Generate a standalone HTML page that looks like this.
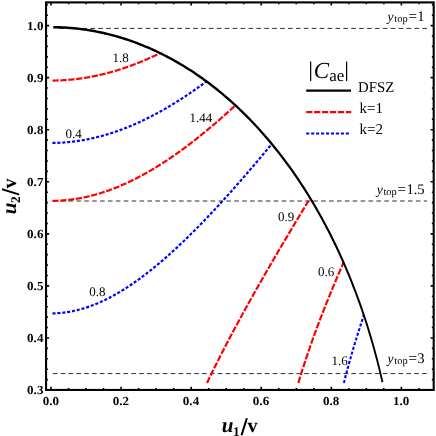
<!DOCTYPE html>
<html><head><meta charset="utf-8"><style>
html,body{margin:0;padding:0;background:#fff;}
svg{display:block;font-family:"Liberation Serif",serif;text-rendering:geometricPrecision;will-change:transform;}
</style></head><body>
<svg width="436" height="436" viewBox="0 0 436 436">
<rect width="436" height="436" fill="#fff"/>
<g stroke="#2e2e2e" stroke-width="1" fill="none">
<path d="M58.77,28.41 L427,28.41" stroke-dasharray="4.6,3.305"/>
<path d="M52.70,201.01 L427,201.01" stroke-dasharray="4.6,3.295"/>
<path d="M52.80,373.60 L427,373.60" stroke-dasharray="4.6,3.257"/>
</g>
<g transform="scale(1,1.0000)" fill="none">
<g stroke="#ff0000" stroke-width="2.2">
<path d="M52.50,80.56 L52.86,80.55 L53.22,80.55 L53.58,80.55 L53.94,80.54 L54.29,80.54 L54.65,80.53 L55.01,80.52 L55.37,80.52 L55.73,80.51 L56.09,80.50 L56.45,80.49 L56.81,80.48 L57.17,80.47 L57.52,80.46 L57.88,80.45 L58.24,80.44 L58.60,80.42 L58.96,80.41 L59.32,80.40 L59.68,80.38 L60.04,80.37 L60.40,80.35 L60.75,80.34 L61.11,80.32 L61.47,80.30 L61.83,80.28 L62.19,80.26 L62.55,80.25 L62.91,80.23 L63.27,80.20 L63.63,80.18 L63.98,80.16 L64.34,80.14 L64.70,80.12 L65.06,80.09 L65.42,80.07 L65.78,80.04 L66.14,80.02 L66.50,79.99 L66.86,79.97 L67.21,79.94 L67.57,79.91 L67.93,79.88 L68.29,79.85 L68.65,79.82 L69.01,79.79 L69.37,79.76 L69.73,79.73 L70.09,79.70 L70.44,79.67 L70.80,79.63 L71.16,79.60 L71.52,79.56 L71.88,79.53 L72.24,79.49 L72.60,79.46 L72.96,79.42 L73.32,79.38 L73.67,79.34 L74.03,79.31 L74.39,79.27 L74.75,79.23 L75.11,79.19 L75.47,79.14 L75.83,79.10 L76.19,79.06 L76.55,79.02 L76.90,78.97 L77.26,78.93 L77.62,78.88 L77.98,78.84 L78.34,78.79 L78.70,78.75 L79.06,78.70 L79.42,78.65 L79.78,78.60 L80.13,78.55 L80.49,78.50 L80.85,78.45 L81.21,78.40 L81.57,78.35 L81.93,78.30 L82.29,78.25 L82.65,78.19 L83.01,78.14 L83.36,78.08 L83.72,78.03 L84.08,77.97 L84.44,77.92 L84.80,77.86 L85.16,77.80 L85.52,77.75 L85.88,77.69 L86.24,77.63 L86.59,77.57 L86.95,77.51 L87.31,77.45 L87.67,77.38 L88.03,77.32 L88.39,77.26 L88.75,77.20 L89.11,77.13 L89.47,77.07 L89.82,77.00 L90.18,76.94 L90.54,76.87 L90.90,76.80 L91.26,76.73 L91.62,76.67 L91.98,76.60 L92.34,76.53 L92.70,76.46 L93.05,76.39 L93.41,76.32 L93.77,76.24 L94.13,76.17 L94.49,76.10 L94.85,76.03 L95.21,75.95 L95.57,75.88 L95.93,75.80 L96.28,75.73 L96.64,75.65 L97.00,75.57 L97.36,75.49 L97.72,75.42 L98.08,75.34 L98.44,75.26 L98.80,75.18 L99.16,75.10 L99.51,75.02 L99.87,74.93 L100.23,74.85 L100.59,74.77 L100.95,74.68 L101.31,74.60 L101.67,74.52 L102.03,74.43 L102.39,74.34 L102.74,74.26 L103.10,74.17 L103.46,74.08 L103.82,73.99 L104.18,73.91 L104.54,73.82 L104.90,73.73 L105.26,73.64 L105.62,73.54 L105.97,73.45 L106.33,73.36 L106.69,73.27 L107.05,73.17 L107.41,73.08 L107.77,72.98 L108.13,72.89 L108.49,72.79 L108.85,72.70 L109.20,72.60 L109.56,72.50 L109.92,72.40 L110.28,72.30 L110.64,72.21 L111.00,72.11 L111.36,72.00 L111.72,71.90 L112.08,71.80 L112.43,71.70 L112.79,71.60 L113.15,71.49 L113.51,71.39 L113.87,71.28 L114.23,71.18 L114.59,71.07 L114.95,70.97 L115.31,70.86 L115.66,70.75 L116.02,70.65 L116.38,70.54 L116.74,70.43 L117.10,70.32 L117.46,70.21 L117.82,70.10 L118.18,69.98 L118.54,69.87 L118.89,69.76 L119.25,69.65 L119.61,69.53 L119.97,69.42 L120.33,69.30 L120.69,69.19 L121.05,69.07 L121.41,68.96 L121.77,68.84 L122.12,68.72 L122.48,68.60 L122.84,68.48 L123.20,68.36 L123.56,68.24 L123.92,68.12 L124.28,68.00 L124.64,67.88 L125.00,67.76 L125.35,67.64 L125.71,67.51 L126.07,67.39 L126.43,67.26 L126.79,67.14 L127.15,67.01 L127.51,66.89 L127.87,66.76 L128.23,66.63 L128.58,66.51 L128.94,66.38 L129.30,66.25 L129.66,66.12 L130.02,65.99 L130.38,65.86 L130.74,65.73 L131.10,65.60 L131.46,65.46 L131.81,65.33 L132.17,65.20 L132.53,65.06 L132.89,64.93 L133.25,64.79 L133.61,64.66 L133.97,64.52 L134.33,64.38 L134.69,64.25 L135.04,64.11 L135.40,63.97 L135.76,63.83 L136.12,63.69 L136.48,63.55 L136.84,63.41 L137.20,63.27 L137.56,63.13 L137.92,62.99 L138.27,62.84 L138.63,62.70 L138.99,62.56 L139.35,62.41 L139.71,62.27 L140.07,62.12 L140.43,61.98 L140.79,61.83 L141.15,61.68 L141.51,61.53 L141.86,61.39 L142.22,61.24 L142.58,61.09 L142.94,60.94 L143.30,60.79 L143.66,60.64 L144.02,60.49 L144.38,60.33 L144.74,60.18 L145.09,60.03 L145.45,59.87 L145.81,59.72 L146.17,59.57 L146.53,59.41 L146.89,59.25 L147.25,59.10 L147.61,58.94 L147.97,58.78 L148.32,58.63 L148.68,58.47 L149.04,58.31 L149.40,58.15 L149.76,57.99 L150.12,57.83 L150.48,57.67 L150.84,57.51 L151.20,57.34 L151.55,57.18 L151.91,57.02 L152.27,56.86 L152.63,56.69 L152.99,56.53 L153.35,56.36 L153.71,56.20 L154.07,56.03 L154.43,55.86 L154.78,55.69 L155.14,55.53 L155.50,55.36 L155.86,55.19 L156.22,55.02 L156.58,54.85 L156.94,54.68 L157.30,54.51 L157.66,54.34 L158.01,54.16 L158.37,53.99 L158.73,53.82 L159.09,53.65 L159.45,53.47 L159.81,53.30 L160.13,53.14" stroke-dasharray="6.202,1.699"/>
<path d="M52.50,200.87 L53.11,200.86 L53.72,200.85 L54.33,200.84 L54.94,200.82 L55.55,200.81 L56.16,200.79 L56.77,200.77 L57.38,200.74 L57.99,200.72 L58.60,200.69 L59.21,200.66 L59.82,200.62 L60.43,200.59 L61.04,200.55 L61.65,200.51 L62.26,200.47 L62.87,200.42 L63.48,200.38 L64.09,200.33 L64.70,200.27 L65.31,200.22 L65.92,200.16 L66.53,200.10 L67.14,200.04 L67.75,199.98 L68.36,199.91 L68.97,199.84 L69.58,199.77 L70.19,199.70 L70.80,199.62 L71.41,199.54 L72.02,199.46 L72.63,199.38 L73.24,199.30 L73.85,199.21 L74.46,199.12 L75.07,199.03 L75.68,198.93 L76.29,198.84 L76.90,198.74 L77.51,198.63 L78.12,198.53 L78.73,198.42 L79.34,198.32 L79.95,198.21 L80.56,198.09 L81.17,197.98 L81.78,197.86 L82.39,197.74 L83.00,197.62 L83.61,197.49 L84.22,197.36 L84.83,197.24 L85.44,197.10 L86.05,196.97 L86.66,196.83 L87.27,196.69 L87.88,196.55 L88.49,196.41 L89.10,196.27 L89.71,196.12 L90.32,195.97 L90.93,195.82 L91.54,195.66 L92.15,195.50 L92.76,195.34 L93.37,195.18 L93.98,195.02 L94.59,194.85 L95.20,194.69 L95.81,194.52 L96.42,194.34 L97.02,194.17 L97.63,193.99 L98.24,193.81 L98.85,193.63 L99.46,193.45 L100.07,193.26 L100.68,193.07 L101.29,192.88 L101.90,192.69 L102.51,192.49 L103.12,192.30 L103.73,192.10 L104.34,191.89 L104.95,191.69 L105.56,191.49 L106.17,191.28 L106.78,191.07 L107.39,190.85 L108.00,190.64 L108.61,190.42 L109.22,190.20 L109.83,189.98 L110.44,189.76 L111.05,189.53 L111.66,189.31 L112.27,189.08 L112.88,188.84 L113.49,188.61 L114.10,188.37 L114.71,188.13 L115.32,187.89 L115.93,187.65 L116.54,187.41 L117.15,187.16 L117.76,186.91 L118.37,186.66 L118.98,186.40 L119.59,186.15 L120.20,185.89 L120.81,185.63 L121.42,185.37 L122.03,185.11 L122.64,184.84 L123.25,184.57 L123.86,184.30 L124.47,184.03 L125.08,183.76 L125.69,183.48 L126.30,183.20 L126.91,182.92 L127.52,182.64 L128.13,182.36 L128.74,182.07 L129.35,181.78 L129.96,181.49 L130.57,181.20 L131.18,180.90 L131.79,180.61 L132.40,180.31 L133.01,180.01 L133.62,179.70 L134.23,179.40 L134.84,179.09 L135.45,178.79 L136.06,178.47 L136.67,178.16 L137.28,177.85 L137.89,177.53 L138.50,177.21 L139.11,176.89 L139.72,176.57 L140.33,176.25 L140.94,175.92 L141.55,175.59 L142.16,175.26 L142.77,174.93 L143.38,174.60 L143.99,174.26 L144.60,173.92 L145.21,173.58 L145.82,173.24 L146.43,172.90 L147.04,172.55 L147.65,172.21 L148.26,171.86 L148.87,171.51 L149.48,171.16 L150.09,170.80 L150.70,170.44 L151.31,170.09 L151.92,169.73 L152.53,169.36 L153.14,169.00 L153.75,168.64 L154.36,168.27 L154.97,167.90 L155.58,167.53 L156.19,167.16 L156.80,166.78 L157.41,166.40 L158.02,166.03 L158.63,165.65 L159.24,165.27 L159.85,164.88 L160.46,164.50 L161.07,164.11 L161.68,163.72 L162.29,163.33 L162.90,162.94 L163.51,162.54 L164.12,162.15 L164.73,161.75 L165.34,161.35 L165.95,160.95 L166.56,160.55 L167.17,160.14 L167.78,159.74 L168.39,159.33 L169.00,158.92 L169.61,158.51 L170.22,158.10 L170.83,157.68 L171.44,157.27 L172.05,156.85 L172.66,156.43 L173.27,156.01 L173.88,155.59 L174.49,155.16 L175.10,154.74 L175.71,154.31 L176.32,153.88 L176.93,153.45 L177.54,153.02 L178.15,152.58 L178.76,152.15 L179.37,151.71 L179.98,151.27 L180.59,150.83 L181.20,150.39 L181.81,149.94 L182.42,149.50 L183.03,149.05 L183.64,148.60 L184.25,148.15 L184.86,147.70 L185.46,147.25 L186.07,146.79 L186.68,146.34 L187.29,145.88 L187.90,145.42 L188.51,144.96 L189.12,144.50 L189.73,144.03 L190.34,143.57 L190.95,143.10 L191.56,142.63 L192.17,142.16 L192.78,141.69 L193.39,141.22 L194.00,140.75 L194.61,140.27 L195.22,139.79 L195.83,139.32 L196.44,138.84 L197.05,138.35 L197.66,137.87 L198.27,137.39 L198.88,136.90 L199.49,136.41 L200.10,135.93 L200.71,135.44 L201.32,134.94 L201.93,134.45 L202.54,133.96 L203.15,133.46 L203.76,132.96 L204.37,132.47 L204.98,131.97 L205.59,131.47 L206.20,130.96 L206.81,130.46 L207.42,129.95 L208.03,129.45 L208.64,128.94 L209.25,128.43 L209.86,127.92 L210.47,127.41 L211.08,126.89 L211.69,126.38 L212.30,125.86 L212.91,125.35 L213.52,124.83 L214.13,124.31 L214.74,123.79 L215.35,123.26 L215.96,122.74 L216.57,122.21 L217.18,121.69 L217.79,121.16 L218.40,120.63 L219.01,120.10 L219.62,119.57 L220.23,119.04 L220.84,118.50 L221.45,117.97 L222.06,117.43 L222.67,116.89 L223.28,116.35 L223.89,115.81 L224.50,115.27 L225.11,114.73 L225.72,114.19 L226.33,113.64 L226.94,113.09 L227.55,112.55 L228.16,112.00 L228.77,111.45 L229.38,110.90 L229.99,110.34 L230.60,109.79 L231.21,109.24 L231.82,108.68 L232.43,108.12 L233.04,107.57 L233.65,107.01 L234.26,106.45 L234.87,105.88 L235.42,105.38" stroke-dasharray="6.147,1.683"/>
<path d="M207.07,382.90 L207.42,382.18 L207.76,381.45 L208.10,380.73 L208.45,380.01 L208.79,379.29 L209.14,378.58 L209.48,377.86 L209.82,377.15 L210.17,376.44 L210.51,375.73 L210.85,375.02 L211.20,374.31 L211.54,373.60 L211.88,372.90 L212.23,372.19 L212.57,371.49 L212.92,370.79 L213.26,370.09 L213.60,369.39 L213.95,368.70 L214.29,368.00 L214.63,367.31 L214.98,366.61 L215.32,365.92 L215.67,365.23 L216.01,364.54 L216.35,363.85 L216.70,363.16 L217.04,362.48 L217.38,361.79 L217.73,361.11 L218.07,360.42 L218.42,359.74 L218.76,359.06 L219.10,358.38 L219.45,357.70 L219.79,357.03 L220.13,356.35 L220.48,355.67 L220.82,355.00 L221.17,354.33 L221.51,353.65 L221.85,352.98 L222.20,352.31 L222.54,351.64 L222.88,350.97 L223.23,350.31 L223.57,349.64 L223.91,348.97 L224.26,348.31 L224.60,347.65 L224.95,346.98 L225.29,346.32 L225.63,345.66 L225.98,345.00 L226.32,344.34 L226.66,343.68 L227.01,343.02 L227.35,342.37 L227.70,341.71 L228.04,341.06 L228.38,340.40 L228.73,339.75 L229.07,339.10 L229.41,338.44 L229.76,337.79 L230.10,337.14 L230.45,336.49 L230.79,335.84 L231.13,335.20 L231.48,334.55 L231.82,333.90 L232.16,333.26 L232.51,332.61 L232.85,331.97 L233.20,331.32 L233.54,330.68 L233.88,330.04 L234.23,329.40 L234.57,328.75 L234.91,328.11 L235.26,327.48 L235.60,326.84 L235.95,326.20 L236.29,325.56 L236.63,324.92 L236.98,324.29 L237.32,323.65 L237.66,323.02 L238.01,322.38 L238.35,321.75 L238.69,321.12 L239.04,320.48 L239.38,319.85 L239.73,319.22 L240.07,318.59 L240.41,317.96 L240.76,317.33 L241.10,316.70 L241.44,316.07 L241.79,315.45 L242.13,314.82 L242.48,314.19 L242.82,313.57 L243.16,312.94 L243.51,312.32 L243.85,311.69 L244.19,311.07 L244.54,310.45 L244.88,309.82 L245.23,309.20 L245.57,308.58 L245.91,307.96 L246.26,307.34 L246.60,306.72 L246.94,306.10 L247.29,305.48 L247.63,304.86 L247.98,304.24 L248.32,303.63 L248.66,303.01 L249.01,302.39 L249.35,301.78 L249.69,301.16 L250.04,300.55 L250.38,299.93 L250.73,299.32 L251.07,298.70 L251.41,298.09 L251.76,297.48 L252.10,296.87 L252.44,296.25 L252.79,295.64 L253.13,295.03 L253.47,294.42 L253.82,293.81 L254.16,293.20 L254.51,292.59 L254.85,291.99 L255.19,291.38 L255.54,290.77 L255.88,290.16 L256.22,289.55 L256.57,288.95 L256.91,288.34 L257.26,287.74 L257.60,287.13 L257.94,286.53 L258.29,285.92 L258.63,285.32 L258.97,284.71 L259.32,284.11 L259.66,283.51 L260.01,282.91 L260.35,282.30 L260.69,281.70 L261.04,281.10 L261.38,280.50 L261.72,279.90 L262.07,279.30 L262.41,278.70 L262.76,278.10 L263.10,277.50 L263.44,276.90 L263.79,276.30 L264.13,275.71 L264.47,275.11 L264.82,274.51 L265.16,273.91 L265.50,273.32 L265.85,272.72 L266.19,272.13 L266.54,271.53 L266.88,270.93 L267.22,270.34 L267.57,269.74 L267.91,269.15 L268.25,268.56 L268.60,267.96 L268.94,267.37 L269.29,266.78 L269.63,266.18 L269.97,265.59 L270.32,265.00 L270.66,264.41 L271.00,263.82 L271.35,263.23 L271.69,262.64 L272.04,262.05 L272.38,261.46 L272.72,260.87 L273.07,260.28 L273.41,259.69 L273.75,259.10 L274.10,258.51 L274.44,257.92 L274.79,257.33 L275.13,256.75 L275.47,256.16 L275.82,255.57 L276.16,254.99 L276.50,254.40 L276.85,253.81 L277.19,253.23 L277.54,252.64 L277.88,252.06 L278.22,251.47 L278.57,250.89 L278.91,250.30 L279.25,249.72 L279.60,249.13 L279.94,248.55 L280.28,247.97 L280.63,247.38 L280.97,246.80 L281.32,246.22 L281.66,245.63 L282.00,245.05 L282.35,244.47 L282.69,243.89 L283.03,243.31 L283.38,242.73 L283.72,242.15 L284.07,241.57 L284.41,240.98 L284.75,240.40 L285.10,239.82 L285.44,239.25 L285.78,238.67 L286.13,238.09 L286.47,237.51 L286.82,236.93 L287.16,236.35 L287.50,235.77 L287.85,235.19 L288.19,234.62 L288.53,234.04 L288.88,233.46 L289.22,232.89 L289.57,232.31 L289.91,231.73 L290.25,231.16 L290.60,230.58 L290.94,230.00 L291.28,229.43 L291.63,228.85 L291.97,228.28 L292.31,227.70 L292.66,227.13 L293.00,226.55 L293.35,225.98 L293.69,225.40 L294.03,224.83 L294.38,224.26 L294.72,223.68 L295.06,223.11 L295.41,222.54 L295.75,221.96 L296.10,221.39 L296.44,220.82 L296.78,220.25 L297.13,219.68 L297.47,219.10 L297.81,218.53 L298.16,217.96 L298.50,217.39 L298.85,216.82 L299.19,216.25 L299.53,215.68 L299.88,215.11 L300.22,214.54 L300.56,213.97 L300.91,213.40 L301.25,212.83 L301.60,212.26 L301.94,211.69 L302.28,211.12 L302.63,210.55 L302.97,209.98 L303.31,209.41 L303.66,208.84 L304.00,208.28 L304.35,207.71 L304.69,207.14 L305.03,206.57 L305.38,206.01 L305.72,205.44 L306.06,204.87 L306.41,204.30 L306.75,203.74 L307.09,203.17 L307.44,202.61 L307.78,202.04 L308.13,201.47 L308.47,200.91 L308.81,200.34 L309.16,199.78 L309.50,199.21 L309.84,198.65 L310.15,198.14" stroke-dasharray="6.359,1.741"/>
<path d="M298.37,382.90 L298.52,382.40 L298.67,381.90 L298.82,381.39 L298.97,380.90 L299.12,380.40 L299.28,379.90 L299.43,379.40 L299.58,378.91 L299.73,378.42 L299.88,377.92 L300.03,377.43 L300.18,376.94 L300.33,376.45 L300.48,375.97 L300.63,375.48 L300.78,374.99 L300.93,374.51 L301.08,374.03 L301.23,373.54 L301.38,373.06 L301.53,372.58 L301.68,372.10 L301.84,371.63 L301.99,371.15 L302.14,370.67 L302.29,370.20 L302.44,369.72 L302.59,369.25 L302.74,368.78 L302.89,368.31 L303.04,367.84 L303.19,367.37 L303.34,366.90 L303.49,366.43 L303.64,365.96 L303.79,365.50 L303.94,365.03 L304.09,364.57 L304.25,364.11 L304.40,363.65 L304.55,363.19 L304.70,362.73 L304.85,362.27 L305.00,361.81 L305.15,361.35 L305.30,360.89 L305.45,360.44 L305.60,359.98 L305.75,359.53 L305.90,359.08 L306.05,358.62 L306.20,358.17 L306.35,357.72 L306.50,357.27 L306.65,356.82 L306.81,356.37 L306.96,355.93 L307.11,355.48 L307.26,355.03 L307.41,354.59 L307.56,354.14 L307.71,353.70 L307.86,353.26 L308.01,352.81 L308.16,352.37 L308.31,351.93 L308.46,351.49 L308.61,351.05 L308.76,350.61 L308.91,350.18 L309.06,349.74 L309.21,349.30 L309.37,348.87 L309.52,348.43 L309.67,348.00 L309.82,347.57 L309.97,347.13 L310.12,346.70 L310.27,346.27 L310.42,345.84 L310.57,345.41 L310.72,344.98 L310.87,344.55 L311.02,344.12 L311.17,343.69 L311.32,343.27 L311.47,342.84 L311.62,342.42 L311.78,341.99 L311.93,341.57 L312.08,341.14 L312.23,340.72 L312.38,340.30 L312.53,339.88 L312.68,339.46 L312.83,339.03 L312.98,338.62 L313.13,338.20 L313.28,337.78 L313.43,337.36 L313.58,336.94 L313.73,336.52 L313.88,336.11 L314.03,335.69 L314.18,335.28 L314.34,334.86 L314.49,334.45 L314.64,334.04 L314.79,333.62 L314.94,333.21 L315.09,332.80 L315.24,332.39 L315.39,331.98 L315.54,331.57 L315.69,331.16 L315.84,330.75 L315.99,330.34 L316.14,329.93 L316.29,329.53 L316.44,329.12 L316.59,328.71 L316.74,328.31 L316.90,327.90 L317.05,327.50 L317.20,327.09 L317.35,326.69 L317.50,326.29 L317.65,325.88 L317.80,325.48 L317.95,325.08 L318.10,324.68 L318.25,324.28 L318.40,323.88 L318.55,323.48 L318.70,323.08 L318.85,322.68 L319.00,322.28 L319.15,321.89 L319.31,321.49 L319.46,321.09 L319.61,320.70 L319.76,320.30 L319.91,319.90 L320.06,319.51 L320.21,319.11 L320.36,318.72 L320.51,318.33 L320.66,317.93 L320.81,317.54 L320.96,317.15 L321.11,316.76 L321.26,316.37 L321.41,315.98 L321.56,315.59 L321.71,315.20 L321.87,314.81 L322.02,314.42 L322.17,314.03 L322.32,313.64 L322.47,313.25 L322.62,312.87 L322.77,312.48 L322.92,312.09 L323.07,311.71 L323.22,311.32 L323.37,310.94 L323.52,310.55 L323.67,310.17 L323.82,309.78 L323.97,309.40 L324.12,309.02 L324.27,308.64 L324.43,308.25 L324.58,307.87 L324.73,307.49 L324.88,307.11 L325.03,306.73 L325.18,306.35 L325.33,305.97 L325.48,305.59 L325.63,305.21 L325.78,304.83 L325.93,304.45 L326.08,304.08 L326.23,303.70 L326.38,303.32 L326.53,302.94 L326.68,302.57 L326.84,302.19 L326.99,301.82 L327.14,301.44 L327.29,301.07 L327.44,300.69 L327.59,300.32 L327.74,299.94 L327.89,299.57 L328.04,299.20 L328.19,298.82 L328.34,298.45 L328.49,298.08 L328.64,297.71 L328.79,297.34 L328.94,296.97 L329.09,296.60 L329.24,296.23 L329.40,295.86 L329.55,295.49 L329.70,295.12 L329.85,294.75 L330.00,294.38 L330.15,294.01 L330.30,293.64 L330.45,293.28 L330.60,292.91 L330.75,292.54 L330.90,292.18 L331.05,291.81 L331.20,291.44 L331.35,291.08 L331.50,290.71 L331.65,290.35 L331.81,289.98 L331.96,289.62 L332.11,289.26 L332.26,288.89 L332.41,288.53 L332.56,288.17 L332.71,287.80 L332.86,287.44 L333.01,287.08 L333.16,286.72 L333.31,286.36 L333.46,286.00 L333.61,285.63 L333.76,285.27 L333.91,284.91 L334.06,284.55 L334.21,284.20 L334.37,283.84 L334.52,283.48 L334.67,283.12 L334.82,282.76 L334.97,282.40 L335.12,282.04 L335.27,281.69 L335.42,281.33 L335.57,280.97 L335.72,280.62 L335.87,280.26 L336.02,279.90 L336.17,279.55 L336.32,279.19 L336.47,278.84 L336.62,278.48 L336.77,278.13 L336.93,277.77 L337.08,277.42 L337.23,277.07 L337.38,276.71 L337.53,276.36 L337.68,276.01 L337.83,275.65 L337.98,275.30 L338.13,274.95 L338.28,274.60 L338.43,274.25 L338.58,273.90 L338.73,273.55 L338.88,273.19 L339.03,272.84 L339.18,272.49 L339.34,272.14 L339.49,271.79 L339.64,271.45 L339.79,271.10 L339.94,270.75 L340.09,270.40 L340.24,270.05 L340.39,269.70 L340.54,269.35 L340.69,269.01 L340.84,268.66 L340.99,268.31 L341.14,267.97 L341.29,267.62 L341.44,267.27 L341.59,266.93 L341.74,266.58 L341.90,266.24 L342.05,265.89 L342.20,265.55 L342.35,265.20 L342.50,264.86 L342.65,264.51 L342.80,264.17 L342.95,263.82 L343.10,263.48 L343.25,263.14 L343.40,262.79 L343.54,262.48" stroke-dasharray="6.476,1.774"/>
</g>
<g stroke="#0000ff" stroke-width="2.2">
<path d="M52.50,142.94 L53.01,142.93 L53.53,142.93 L54.04,142.92 L54.55,142.91 L55.07,142.90 L55.58,142.89 L56.10,142.87 L56.61,142.86 L57.12,142.84 L57.64,142.82 L58.15,142.81 L58.66,142.78 L59.18,142.76 L59.69,142.74 L60.20,142.71 L60.72,142.69 L61.23,142.66 L61.74,142.63 L62.26,142.60 L62.77,142.57 L63.29,142.53 L63.80,142.50 L64.31,142.46 L64.83,142.42 L65.34,142.38 L65.85,142.34 L66.37,142.30 L66.88,142.26 L67.39,142.21 L67.91,142.16 L68.42,142.12 L68.93,142.07 L69.45,142.01 L69.96,141.96 L70.48,141.91 L70.99,141.85 L71.50,141.80 L72.02,141.74 L72.53,141.68 L73.04,141.62 L73.56,141.55 L74.07,141.49 L74.58,141.43 L75.10,141.36 L75.61,141.29 L76.12,141.22 L76.64,141.15 L77.15,141.08 L77.67,141.00 L78.18,140.93 L78.69,140.85 L79.21,140.77 L79.72,140.69 L80.23,140.61 L80.75,140.53 L81.26,140.45 L81.77,140.36 L82.29,140.27 L82.80,140.19 L83.32,140.10 L83.83,140.01 L84.34,139.91 L84.86,139.82 L85.37,139.72 L85.88,139.63 L86.40,139.53 L86.91,139.43 L87.42,139.33 L87.94,139.23 L88.45,139.12 L88.96,139.02 L89.48,138.91 L89.99,138.81 L90.51,138.70 L91.02,138.59 L91.53,138.47 L92.05,138.36 L92.56,138.25 L93.07,138.13 L93.59,138.01 L94.10,137.89 L94.61,137.77 L95.13,137.65 L95.64,137.53 L96.15,137.40 L96.67,137.28 L97.18,137.15 L97.70,137.02 L98.21,136.89 L98.72,136.76 L99.24,136.63 L99.75,136.49 L100.26,136.36 L100.78,136.22 L101.29,136.08 L101.80,135.94 L102.32,135.80 L102.83,135.66 L103.34,135.51 L103.86,135.37 L104.37,135.22 L104.89,135.07 L105.40,134.93 L105.91,134.77 L106.43,134.62 L106.94,134.47 L107.45,134.31 L107.97,134.16 L108.48,134.00 L108.99,133.84 L109.51,133.68 L110.02,133.52 L110.54,133.36 L111.05,133.19 L111.56,133.03 L112.08,132.86 L112.59,132.69 L113.10,132.52 L113.62,132.35 L114.13,132.18 L114.64,132.01 L115.16,131.83 L115.67,131.66 L116.18,131.48 L116.70,131.30 L117.21,131.12 L117.73,130.94 L118.24,130.76 L118.75,130.57 L119.27,130.39 L119.78,130.20 L120.29,130.01 L120.81,129.82 L121.32,129.63 L121.83,129.44 L122.35,129.25 L122.86,129.05 L123.37,128.85 L123.89,128.66 L124.40,128.46 L124.92,128.26 L125.43,128.06 L125.94,127.86 L126.46,127.65 L126.97,127.45 L127.48,127.24 L128.00,127.03 L128.51,126.82 L129.02,126.61 L129.54,126.40 L130.05,126.19 L130.56,125.98 L131.08,125.76 L131.59,125.54 L132.11,125.33 L132.62,125.11 L133.13,124.89 L133.65,124.66 L134.16,124.44 L134.67,124.22 L135.19,123.99 L135.70,123.77 L136.21,123.54 L136.73,123.31 L137.24,123.08 L137.75,122.85 L138.27,122.61 L138.78,122.38 L139.30,122.14 L139.81,121.91 L140.32,121.67 L140.84,121.43 L141.35,121.19 L141.86,120.95 L142.38,120.71 L142.89,120.46 L143.40,120.22 L143.92,119.97 L144.43,119.72 L144.95,119.47 L145.46,119.22 L145.97,118.97 L146.49,118.72 L147.00,118.46 L147.51,118.21 L148.03,117.95 L148.54,117.70 L149.05,117.44 L149.57,117.18 L150.08,116.92 L150.59,116.65 L151.11,116.39 L151.62,116.13 L152.14,115.86 L152.65,115.59 L153.16,115.32 L153.68,115.06 L154.19,114.78 L154.70,114.51 L155.22,114.24 L155.73,113.97 L156.24,113.69 L156.76,113.41 L157.27,113.14 L157.78,112.86 L158.30,112.58 L158.81,112.30 L159.33,112.01 L159.84,111.73 L160.35,111.45 L160.87,111.16 L161.38,110.87 L161.89,110.59 L162.41,110.30 L162.92,110.01 L163.43,109.71 L163.95,109.42 L164.46,109.13 L164.97,108.83 L165.49,108.54 L166.00,108.24 L166.52,107.94 L167.03,107.64 L167.54,107.34 L168.06,107.04 L168.57,106.74 L169.08,106.43 L169.60,106.13 L170.11,105.82 L170.62,105.52 L171.14,105.21 L171.65,104.90 L172.17,104.59 L172.68,104.28 L173.19,103.96 L173.71,103.65 L174.22,103.33 L174.73,103.02 L175.25,102.70 L175.76,102.38 L176.27,102.06 L176.79,101.74 L177.30,101.42 L177.81,101.10 L178.33,100.78 L178.84,100.45 L179.36,100.13 L179.87,99.80 L180.38,99.47 L180.90,99.14 L181.41,98.81 L181.92,98.48 L182.44,98.15 L182.95,97.82 L183.46,97.48 L183.98,97.15 L184.49,96.81 L185.00,96.47 L185.52,96.14 L186.03,95.80 L186.55,95.46 L187.06,95.11 L187.57,94.77 L188.09,94.43 L188.60,94.08 L189.11,93.74 L189.63,93.39 L190.14,93.04 L190.65,92.70 L191.17,92.35 L191.68,92.00 L192.19,91.64 L192.71,91.29 L193.22,90.94 L193.74,90.58 L194.25,90.23 L194.76,89.87 L195.28,89.51 L195.79,89.15 L196.30,88.79 L196.82,88.43 L197.33,88.07 L197.84,87.71 L198.36,87.35 L198.87,86.98 L199.39,86.62 L199.90,86.25 L200.41,85.88 L200.93,85.51 L201.44,85.14 L201.95,84.77 L202.47,84.40 L202.98,84.03 L203.49,83.66 L204.01,83.28 L204.52,82.91 L205.03,82.53 L205.55,82.15 L206.06,81.78 L206.52,81.44" stroke-dasharray="3.050,1.850"/>
<path d="M52.50,313.37 L53.23,313.36 L53.96,313.34 L54.69,313.32 L55.42,313.29 L56.16,313.25 L56.89,313.22 L57.62,313.17 L58.35,313.12 L59.08,313.07 L59.81,313.01 L60.54,312.95 L61.27,312.88 L62.01,312.81 L62.74,312.73 L63.47,312.64 L64.20,312.56 L64.93,312.46 L65.66,312.36 L66.39,312.26 L67.12,312.15 L67.85,312.04 L68.59,311.92 L69.32,311.80 L70.05,311.67 L70.78,311.53 L71.51,311.39 L72.24,311.25 L72.97,311.10 L73.70,310.95 L74.44,310.79 L75.17,310.63 L75.90,310.46 L76.63,310.29 L77.36,310.11 L78.09,309.93 L78.82,309.74 L79.55,309.55 L80.28,309.35 L81.02,309.15 L81.75,308.94 L82.48,308.73 L83.21,308.51 L83.94,308.29 L84.67,308.07 L85.40,307.84 L86.13,307.60 L86.87,307.36 L87.60,307.12 L88.33,306.87 L89.06,306.61 L89.79,306.35 L90.52,306.09 L91.25,305.82 L91.98,305.55 L92.71,305.27 L93.45,304.99 L94.18,304.70 L94.91,304.41 L95.64,304.12 L96.37,303.82 L97.10,303.51 L97.83,303.21 L98.56,302.89 L99.30,302.57 L100.03,302.25 L100.76,301.93 L101.49,301.59 L102.22,301.26 L102.95,300.92 L103.68,300.58 L104.41,300.23 L105.14,299.87 L105.88,299.52 L106.61,299.16 L107.34,298.79 L108.07,298.42 L108.80,298.05 L109.53,297.67 L110.26,297.29 L110.99,296.90 L111.73,296.51 L112.46,296.12 L113.19,295.72 L113.92,295.31 L114.65,294.91 L115.38,294.50 L116.11,294.08 L116.84,293.66 L117.57,293.24 L118.31,292.81 L119.04,292.38 L119.77,291.95 L120.50,291.51 L121.23,291.07 L121.96,290.62 L122.69,290.17 L123.42,289.72 L124.16,289.26 L124.89,288.80 L125.62,288.33 L126.35,287.86 L127.08,287.39 L127.81,286.92 L128.54,286.44 L129.27,285.95 L130.00,285.46 L130.74,284.97 L131.47,284.48 L132.20,283.98 L132.93,283.48 L133.66,282.97 L134.39,282.47 L135.12,281.95 L135.85,281.44 L136.59,280.92 L137.32,280.40 L138.05,279.87 L138.78,279.34 L139.51,278.81 L140.24,278.27 L140.97,277.73 L141.70,277.19 L142.43,276.65 L143.17,276.10 L143.90,275.54 L144.63,274.99 L145.36,274.43 L146.09,273.87 L146.82,273.30 L147.55,272.73 L148.28,272.16 L149.02,271.59 L149.75,271.01 L150.48,270.43 L151.21,269.85 L151.94,269.26 L152.67,268.67 L153.40,268.08 L154.13,267.48 L154.86,266.88 L155.60,266.28 L156.33,265.68 L157.06,265.07 L157.79,264.46 L158.52,263.85 L159.25,263.23 L159.98,262.61 L160.71,261.99 L161.45,261.36 L162.18,260.74 L162.91,260.11 L163.64,259.48 L164.37,258.84 L165.10,258.20 L165.83,257.56 L166.56,256.92 L167.29,256.27 L168.03,255.62 L168.76,254.97 L169.49,254.32 L170.22,253.66 L170.95,253.00 L171.68,252.34 L172.41,251.68 L173.14,251.01 L173.88,250.34 L174.61,249.67 L175.34,248.99 L176.07,248.32 L176.80,247.64 L177.53,246.96 L178.26,246.27 L178.99,245.59 L179.72,244.90 L180.46,244.21 L181.19,243.52 L181.92,242.82 L182.65,242.12 L183.38,241.42 L184.11,240.72 L184.84,240.02 L185.57,239.31 L186.31,238.60 L187.04,237.89 L187.77,237.18 L188.50,236.46 L189.23,235.74 L189.96,235.02 L190.69,234.30 L191.42,233.58 L192.15,232.85 L192.89,232.12 L193.62,231.39 L194.35,230.66 L195.08,229.93 L195.81,229.19 L196.54,228.45 L197.27,227.71 L198.00,226.97 L198.74,226.23 L199.47,225.48 L200.20,224.73 L200.93,223.98 L201.66,223.23 L202.39,222.48 L203.12,221.72 L203.85,220.96 L204.58,220.20 L205.32,219.44 L206.05,218.68 L206.78,217.91 L207.51,217.15 L208.24,216.38 L208.97,215.61 L209.70,214.84 L210.43,214.06 L211.17,213.29 L211.90,212.51 L212.63,211.73 L213.36,210.95 L214.09,210.17 L214.82,209.38 L215.55,208.60 L216.28,207.81 L217.01,207.02 L217.75,206.23 L218.48,205.44 L219.21,204.64 L219.94,203.85 L220.67,203.05 L221.40,202.25 L222.13,201.45 L222.86,200.65 L223.60,199.85 L224.33,199.04 L225.06,198.23 L225.79,197.43 L226.52,196.62 L227.25,195.81 L227.98,194.99 L228.71,194.18 L229.44,193.36 L230.18,192.55 L230.91,191.73 L231.64,190.91 L232.37,190.09 L233.10,189.26 L233.83,188.44 L234.56,187.61 L235.29,186.79 L236.03,185.96 L236.76,185.13 L237.49,184.30 L238.22,183.47 L238.95,182.63 L239.68,181.80 L240.41,180.96 L241.14,180.12 L241.87,179.28 L242.61,178.44 L243.34,177.60 L244.07,176.76 L244.80,175.92 L245.53,175.07 L246.26,174.22 L246.99,173.38 L247.72,172.53 L248.46,171.68 L249.19,170.82 L249.92,169.97 L250.65,169.12 L251.38,168.26 L252.11,167.41 L252.84,166.55 L253.57,165.69 L254.30,164.83 L255.04,163.97 L255.77,163.11 L256.50,162.24 L257.23,161.38 L257.96,160.51 L258.69,159.65 L259.42,158.78 L260.15,157.91 L260.89,157.04 L261.62,156.17 L262.35,155.30 L263.08,154.42 L263.81,153.55 L264.54,152.68 L265.27,151.80 L266.00,150.92 L266.73,150.04 L267.47,149.16 L268.20,148.28 L268.93,147.40 L269.66,146.52 L270.39,145.64 L271.12,144.75 L271.78,143.95" stroke-dasharray="3.050,1.850"/>
<path d="M343.83,382.90 L343.90,382.64 L343.96,382.37 L344.03,382.11 L344.10,381.85 L344.16,381.59 L344.23,381.32 L344.30,381.06 L344.36,380.80 L344.43,380.54 L344.50,380.28 L344.56,380.02 L344.63,379.76 L344.70,379.50 L344.76,379.24 L344.83,378.98 L344.90,378.72 L344.96,378.47 L345.03,378.21 L345.10,377.95 L345.16,377.69 L345.23,377.44 L345.30,377.18 L345.36,376.93 L345.43,376.67 L345.50,376.41 L345.56,376.16 L345.63,375.90 L345.70,375.65 L345.76,375.40 L345.83,375.14 L345.90,374.89 L345.96,374.64 L346.03,374.38 L346.10,374.13 L346.16,373.88 L346.23,373.63 L346.30,373.37 L346.36,373.12 L346.43,372.87 L346.50,372.62 L346.56,372.37 L346.63,372.12 L346.70,371.87 L346.76,371.62 L346.83,371.37 L346.90,371.12 L346.96,370.88 L347.03,370.63 L347.10,370.38 L347.16,370.13 L347.23,369.88 L347.30,369.64 L347.36,369.39 L347.43,369.14 L347.50,368.90 L347.56,368.65 L347.63,368.41 L347.70,368.16 L347.76,367.92 L347.83,367.67 L347.89,367.43 L347.96,367.18 L348.03,366.94 L348.09,366.70 L348.16,366.45 L348.23,366.21 L348.29,365.97 L348.36,365.72 L348.43,365.48 L348.49,365.24 L348.56,365.00 L348.63,364.76 L348.69,364.51 L348.76,364.27 L348.83,364.03 L348.89,363.79 L348.96,363.55 L349.03,363.31 L349.09,363.07 L349.16,362.83 L349.23,362.59 L349.29,362.36 L349.36,362.12 L349.43,361.88 L349.49,361.64 L349.56,361.40 L349.63,361.16 L349.69,360.93 L349.76,360.69 L349.83,360.45 L349.89,360.22 L349.96,359.98 L350.03,359.74 L350.09,359.51 L350.16,359.27 L350.23,359.04 L350.29,358.80 L350.36,358.57 L350.43,358.33 L350.49,358.10 L350.56,357.86 L350.63,357.63 L350.69,357.40 L350.76,357.16 L350.83,356.93 L350.89,356.70 L350.96,356.46 L351.03,356.23 L351.09,356.00 L351.16,355.77 L351.23,355.54 L351.29,355.30 L351.36,355.07 L351.43,354.84 L351.49,354.61 L351.56,354.38 L351.63,354.15 L351.69,353.92 L351.76,353.69 L351.83,353.46 L351.89,353.23 L351.96,353.00 L352.03,352.77 L352.09,352.54 L352.16,352.31 L352.23,352.09 L352.29,351.86 L352.36,351.63 L352.43,351.40 L352.49,351.17 L352.56,350.95 L352.63,350.72 L352.69,350.49 L352.76,350.27 L352.83,350.04 L352.89,349.81 L352.96,349.59 L353.03,349.36 L353.09,349.14 L353.16,348.91 L353.23,348.69 L353.29,348.46 L353.36,348.24 L353.43,348.01 L353.49,347.79 L353.56,347.56 L353.63,347.34 L353.69,347.11 L353.76,346.89 L353.83,346.67 L353.89,346.44 L353.96,346.22 L354.03,346.00 L354.09,345.78 L354.16,345.55 L354.23,345.33 L354.29,345.11 L354.36,344.89 L354.43,344.67 L354.49,344.44 L354.56,344.22 L354.63,344.00 L354.69,343.78 L354.76,343.56 L354.83,343.34 L354.89,343.12 L354.96,342.90 L355.03,342.68 L355.09,342.46 L355.16,342.24 L355.23,342.02 L355.29,341.80 L355.36,341.58 L355.43,341.36 L355.49,341.15 L355.56,340.93 L355.63,340.71 L355.69,340.49 L355.76,340.27 L355.83,340.06 L355.89,339.84 L355.96,339.62 L356.03,339.40 L356.09,339.19 L356.16,338.97 L356.23,338.75 L356.29,338.54 L356.36,338.32 L356.43,338.10 L356.49,337.89 L356.56,337.67 L356.63,337.46 L356.69,337.24 L356.76,337.03 L356.83,336.81 L356.89,336.60 L356.96,336.38 L357.03,336.17 L357.09,335.95 L357.16,335.74 L357.23,335.53 L357.29,335.31 L357.36,335.10 L357.43,334.89 L357.49,334.67 L357.56,334.46 L357.63,334.25 L357.69,334.03 L357.76,333.82 L357.83,333.61 L357.89,333.40 L357.96,333.18 L358.03,332.97 L358.09,332.76 L358.16,332.55 L358.23,332.34 L358.29,332.13 L358.36,331.91 L358.43,331.70 L358.49,331.49 L358.56,331.28 L358.63,331.07 L358.69,330.86 L358.76,330.65 L358.83,330.44 L358.89,330.23 L358.96,330.02 L359.03,329.81 L359.09,329.60 L359.16,329.39 L359.23,329.18 L359.29,328.98 L359.36,328.77 L359.43,328.56 L359.49,328.35 L359.56,328.14 L359.63,327.93 L359.69,327.73 L359.76,327.52 L359.83,327.31 L359.89,327.10 L359.96,326.89 L360.03,326.69 L360.09,326.48 L360.16,326.27 L360.23,326.07 L360.29,325.86 L360.36,325.65 L360.43,325.45 L360.49,325.24 L360.56,325.04 L360.63,324.83 L360.69,324.62 L360.76,324.42 L360.83,324.21 L360.89,324.01 L360.96,323.80 L361.03,323.60 L361.09,323.39 L361.16,323.19 L361.23,322.98 L361.29,322.78 L361.36,322.57 L361.43,322.37 L361.49,322.17 L361.56,321.96 L361.63,321.76 L361.69,321.56 L361.76,321.35 L361.83,321.15 L361.89,320.95 L361.96,320.74 L362.03,320.54 L362.09,320.34 L362.16,320.13 L362.23,319.93 L362.29,319.73 L362.36,319.53 L362.43,319.33 L362.49,319.12 L362.56,318.92 L362.63,318.72 L362.69,318.52 L362.76,318.32 L362.83,318.12 L362.89,317.91 L362.96,317.71 L363.03,317.51 L363.09,317.31 L363.16,317.11 L363.23,316.91 L363.29,316.71 L363.36,316.51 L363.43,316.31 L363.49,316.11 L363.56,315.91 L363.63,315.71 L363.69,315.51 L363.76,315.31 L363.82,315.13" stroke-dasharray="3.050,1.850"/>
</g>
</g>
<path fill="#000" d="M53.29,28.40 L56.17,28.45 L59.06,28.53 L61.94,28.65 L64.82,28.80 L67.70,28.99 L70.58,29.21 L73.46,29.47 L76.34,29.76 L79.22,30.09 L82.09,30.46 L84.96,30.86 L87.83,31.30 L90.70,31.77 L93.57,32.28 L96.43,32.82 L99.29,33.40 L102.14,34.01 L104.99,34.66 L107.84,35.34 L110.69,36.06 L113.53,36.81 L116.36,37.60 L119.20,38.42 L122.02,39.28 L124.84,40.18 L127.66,41.10 L130.47,42.07 L133.28,43.06 L136.08,44.09 L138.88,45.16 L141.67,46.26 L144.45,47.40 L147.23,48.57 L150.00,49.77 L152.76,51.01 L155.52,52.28 L158.27,53.58 L161.01,54.92 L163.75,56.30 L166.48,57.71 L169.20,59.15 L171.91,60.62 L174.61,62.13 L177.31,63.67 L179.99,65.24 L182.67,66.85 L185.34,68.49 L188.00,70.16 L190.65,71.87 L193.29,73.61 L195.92,75.38 L198.54,77.18 L201.16,79.02 L203.76,80.89 L206.35,82.79 L208.93,84.72 L211.50,86.68 L214.06,88.68 L216.60,90.71 L219.14,92.76 L221.67,94.85 L224.18,96.98 L226.68,99.13 L229.17,101.31 L231.65,103.52 L234.11,105.77 L236.56,108.04 L239.00,110.35 L241.43,112.68 L243.84,115.04 L246.24,117.44 L248.63,119.86 L251.01,122.32 L253.37,124.80 L255.71,127.31 L258.04,129.85 L260.36,132.42 L262.67,135.02 L264.96,137.64 L267.23,140.30 L269.49,142.98 L271.74,145.69 L273.97,148.43 L276.18,151.19 L278.38,153.99 L280.56,156.80 L282.73,159.65 L284.88,162.52 L287.02,165.42 L289.14,168.35 L291.24,171.30 L293.33,174.28 L295.40,177.28 L297.45,180.31 L299.49,183.37 L301.51,186.45 L303.51,189.55 L305.50,192.68 L307.46,195.83 L309.41,199.01 L311.35,202.21 L313.26,205.44 L315.16,208.69 L317.04,211.96 L318.89,215.26 L320.74,218.57 L322.56,221.91 L324.36,225.28 L326.15,228.66 L327.92,232.07 L329.66,235.50 L331.39,238.95 L333.10,242.42 L334.79,245.92 L336.46,249.43 L338.11,252.96 L339.74,256.52 L341.35,260.09 L342.94,263.69 L344.52,267.30 L346.07,270.93 L347.60,274.59 L349.11,278.26 L350.60,281.95 L352.06,285.65 L353.51,289.38 L354.94,293.12 L356.35,296.88 L357.73,300.66 L359.10,304.46 L360.44,308.27 L361.76,312.10 L363.06,315.94 L364.34,319.80 L365.60,323.68 L366.83,327.57 L368.05,331.48 L369.24,335.40 L370.41,339.34 L371.56,343.29 L372.68,347.25 L373.79,351.23 L374.87,355.22 L375.93,359.23 L376.97,363.24 L377.98,367.28 L378.97,371.32 L379.94,375.37 L380.89,379.44 L381.59,382.50 L383.36,382.10 L382.67,379.03 L381.73,374.95 L380.76,370.89 L379.78,366.83 L378.77,362.79 L377.73,358.76 L376.68,354.74 L375.60,350.73 L374.50,346.74 L373.38,342.76 L372.24,338.80 L371.07,334.85 L369.88,330.92 L368.67,327.00 L367.44,323.09 L366.19,319.20 L364.91,315.33 L363.61,311.47 L362.30,307.62 L360.95,303.80 L359.59,299.99 L358.21,296.20 L356.81,292.42 L355.38,288.66 L353.93,284.92 L352.47,281.20 L350.98,277.50 L349.47,273.81 L347.94,270.14 L346.39,266.49 L344.82,262.86 L343.23,259.25 L341.62,255.67 L339.99,252.10 L338.34,248.55 L336.67,245.02 L334.98,241.51 L333.27,238.02 L331.54,234.55 L329.79,231.11 L328.03,227.68 L326.24,224.28 L324.43,220.90 L322.61,217.55 L320.77,214.21 L318.90,210.90 L317.02,207.61 L315.12,204.34 L313.21,201.10 L311.27,197.88 L309.32,194.69 L307.35,191.52 L305.36,188.37 L303.35,185.25 L301.33,182.15 L299.29,179.08 L297.23,176.04 L295.15,173.01 L293.06,170.02 L290.95,167.05 L288.83,164.11 L286.68,161.19 L284.52,158.30 L282.35,155.43 L280.16,152.60 L277.95,149.79 L275.73,147.00 L273.49,144.25 L271.24,141.52 L268.97,138.82 L266.69,136.15 L264.39,133.50 L262.08,130.89 L259.75,128.30 L257.41,125.74 L255.05,123.21 L252.68,120.71 L250.29,118.24 L247.89,115.80 L245.48,113.39 L243.06,111.01 L240.62,108.66 L238.16,106.33 L235.70,104.04 L233.22,101.78 L230.73,99.55 L228.23,97.35 L225.71,95.18 L223.18,93.04 L220.64,90.93 L218.09,88.86 L215.53,86.82 L212.95,84.80 L210.37,82.82 L207.77,80.87 L205.16,78.96 L202.54,77.07 L199.91,75.22 L197.27,73.40 L194.62,71.61 L191.96,69.86 L189.29,68.14 L186.61,66.45 L183.92,64.79 L181.22,63.17 L178.52,61.58 L175.80,60.03 L173.07,58.50 L170.34,57.01 L167.60,55.56 L164.85,54.14 L162.09,52.75 L159.32,51.40 L156.55,50.08 L153.77,48.80 L150.98,47.55 L148.19,46.33 L145.38,45.15 L142.58,44.00 L139.76,42.89 L136.94,41.81 L134.11,40.77 L131.28,39.76 L128.44,38.79 L125.60,37.85 L122.75,36.95 L119.89,36.08 L117.03,35.25 L114.17,34.45 L111.30,33.69 L108.43,32.97 L105.55,32.27 L102.67,31.62 L99.79,31.00 L96.90,30.42 L94.01,29.87 L91.11,29.35 L88.22,28.88 L85.32,28.44 L82.42,28.03 L79.51,27.66 L76.61,27.33 L73.70,27.03 L70.79,26.77 L67.88,26.54 L64.97,26.35 L62.05,26.20 L59.14,26.08 L56.23,26.00 L53.31,25.95 Z"/>
<rect x="46.05" y="2.40" width="387.65" height="387.55" fill="none" stroke="#000" stroke-width="2.1"/>
<path stroke="#000" stroke-width="1.6" fill="none" d="M51.00,389.95 L51.00,386.85 M51.00,2.40 L51.00,5.50 M68.52,389.95 L68.52,388.10 M68.52,2.40 L68.52,4.25 M86.04,389.95 L86.04,388.10 M86.04,2.40 L86.04,4.25 M103.56,389.95 L103.56,388.10 M103.56,2.40 L103.56,4.25 M121.08,389.95 L121.08,386.85 M121.08,2.40 L121.08,5.50 M138.60,389.95 L138.60,388.10 M138.60,2.40 L138.60,4.25 M156.12,389.95 L156.12,388.10 M156.12,2.40 L156.12,4.25 M173.64,389.95 L173.64,388.10 M173.64,2.40 L173.64,4.25 M191.16,389.95 L191.16,386.85 M191.16,2.40 L191.16,5.50 M208.68,389.95 L208.68,388.10 M208.68,2.40 L208.68,4.25 M226.20,389.95 L226.20,388.10 M226.20,2.40 L226.20,4.25 M243.72,389.95 L243.72,388.10 M243.72,2.40 L243.72,4.25 M261.24,389.95 L261.24,386.85 M261.24,2.40 L261.24,5.50 M278.76,389.95 L278.76,388.10 M278.76,2.40 L278.76,4.25 M296.28,389.95 L296.28,388.10 M296.28,2.40 L296.28,4.25 M313.80,389.95 L313.80,388.10 M313.80,2.40 L313.80,4.25 M331.32,389.95 L331.32,386.85 M331.32,2.40 L331.32,5.50 M348.84,389.95 L348.84,388.10 M348.84,2.40 L348.84,4.25 M366.36,389.95 L366.36,388.10 M366.36,2.40 L366.36,4.25 M383.88,389.95 L383.88,388.10 M383.88,2.40 L383.88,4.25 M401.40,389.95 L401.40,386.85 M401.40,2.40 L401.40,5.50 M418.92,389.95 L418.92,388.10 M418.92,2.40 L418.92,4.25 M46.05,390.02 L49.15,390.02 M433.70,390.02 L430.60,390.02 M46.05,379.61 L47.90,379.61 M433.70,379.61 L431.85,379.61 M46.05,369.20 L47.90,369.20 M433.70,369.20 L431.85,369.20 M46.05,358.78 L47.90,358.78 M433.70,358.78 L431.85,358.78 M46.05,348.37 L47.90,348.37 M433.70,348.37 L431.85,348.37 M46.05,337.96 L49.15,337.96 M433.70,337.96 L430.60,337.96 M46.05,327.55 L47.90,327.55 M433.70,327.55 L431.85,327.55 M46.05,317.14 L47.90,317.14 M433.70,317.14 L431.85,317.14 M46.05,306.72 L47.90,306.72 M433.70,306.72 L431.85,306.72 M46.05,296.31 L47.90,296.31 M433.70,296.31 L431.85,296.31 M46.05,285.90 L49.15,285.90 M433.70,285.90 L430.60,285.90 M46.05,275.49 L47.90,275.49 M433.70,275.49 L431.85,275.49 M46.05,265.08 L47.90,265.08 M433.70,265.08 L431.85,265.08 M46.05,254.66 L47.90,254.66 M433.70,254.66 L431.85,254.66 M46.05,244.25 L47.90,244.25 M433.70,244.25 L431.85,244.25 M46.05,233.84 L49.15,233.84 M433.70,233.84 L430.60,233.84 M46.05,223.43 L47.90,223.43 M433.70,223.43 L431.85,223.43 M46.05,213.02 L47.90,213.02 M433.70,213.02 L431.85,213.02 M46.05,202.60 L47.90,202.60 M433.70,202.60 L431.85,202.60 M46.05,192.19 L47.90,192.19 M433.70,192.19 L431.85,192.19 M46.05,181.78 L49.15,181.78 M433.70,181.78 L430.60,181.78 M46.05,171.37 L47.90,171.37 M433.70,171.37 L431.85,171.37 M46.05,160.96 L47.90,160.96 M433.70,160.96 L431.85,160.96 M46.05,150.54 L47.90,150.54 M433.70,150.54 L431.85,150.54 M46.05,140.13 L47.90,140.13 M433.70,140.13 L431.85,140.13 M46.05,129.72 L49.15,129.72 M433.70,129.72 L430.60,129.72 M46.05,119.31 L47.90,119.31 M433.70,119.31 L431.85,119.31 M46.05,108.90 L47.90,108.90 M433.70,108.90 L431.85,108.90 M46.05,98.48 L47.90,98.48 M433.70,98.48 L431.85,98.48 M46.05,88.07 L47.90,88.07 M433.70,88.07 L431.85,88.07 M46.05,77.66 L49.15,77.66 M433.70,77.66 L430.60,77.66 M46.05,67.25 L47.90,67.25 M433.70,67.25 L431.85,67.25 M46.05,56.84 L47.90,56.84 M433.70,56.84 L431.85,56.84 M46.05,46.42 L47.90,46.42 M433.70,46.42 L431.85,46.42 M46.05,36.01 L47.90,36.01 M433.70,36.01 L431.85,36.01 M46.05,25.60 L49.15,25.60 M433.70,25.60 L430.60,25.60 M46.05,15.19 L47.90,15.19 M433.70,15.19 L431.85,15.19 M46.05,4.78 L47.90,4.78 M433.70,4.78 L431.85,4.78"/>
<g font-weight="bold" font-size="12.3px" fill="#000">
<text transform="translate(50.8,404.6) scale(1.06,1)" text-anchor="middle">0.0</text>
<text transform="translate(120.9,404.6) scale(1.06,1)" text-anchor="middle">0.2</text>
<text transform="translate(191.0,404.6) scale(1.06,1)" text-anchor="middle">0.4</text>
<text transform="translate(261.0,404.6) scale(1.06,1)" text-anchor="middle">0.6</text>
<text transform="translate(331.1,404.6) scale(1.06,1)" text-anchor="middle">0.8</text>
<text transform="translate(401.2,404.6) scale(1.06,1)" text-anchor="middle">1.0</text>
<text transform="translate(43.4,394.0) scale(1.06,1)" text-anchor="end">0.3</text>
<text transform="translate(43.4,342.0) scale(1.06,1)" text-anchor="end">0.4</text>
<text transform="translate(43.4,289.9) scale(1.06,1)" text-anchor="end">0.5</text>
<text transform="translate(43.4,237.8) scale(1.06,1)" text-anchor="end">0.6</text>
<text transform="translate(43.4,185.8) scale(1.06,1)" text-anchor="end">0.7</text>
<text transform="translate(43.4,133.7) scale(1.06,1)" text-anchor="end">0.8</text>
<text transform="translate(43.4,81.7) scale(1.06,1)" text-anchor="end">0.9</text>
<text transform="translate(43.4,29.6) scale(1.06,1)" text-anchor="end">1.0</text>
</g>
<g transform="translate(222.1,431.95)" font-weight="bold" fill="#000"><text x="-0.3" y="0" font-size="21px" font-style="italic">u</text><text x="10.9" y="3.7" font-size="13.3px">1</text><path d="M18.4,3.4 L20.5,3.4 L25.8,-13.8 L23.7,-13.8 Z"/><text x="25.4" y="0" font-size="20px">v</text></g>
<g transform="translate(15.8,214.0) rotate(-90)" font-weight="bold" fill="#000"><text x="-0.3" y="0" font-size="21px" font-style="italic">u</text><text x="10.9" y="3.7" font-size="13.3px">2</text><path d="M18.4,3.4 L20.5,3.4 L25.8,-13.8 L23.7,-13.8 Z"/><text x="25.4" y="0" font-size="20px">v</text></g>
<g font-size="14px" fill="#000"><text x="408.5" y="21.0" font-size="15px">=</text><text x="417.3" y="21.0" font-size="14.6px">1</text><text x="394.3" y="22.2" font-size="10.4px">top</text><text x="387.6" y="21.0" font-style="italic" font-size="13.6px">y</text></g>
<g font-size="14px" fill="#000"><text x="397.6" y="193.7" font-size="15px">=</text><text x="406.4" y="193.7" font-size="14.6px">1.5</text><text x="383.4" y="194.9" font-size="10.4px">top</text><text x="376.7" y="193.7" font-style="italic" font-size="13.6px">y</text></g>
<g font-size="14px" fill="#000"><text x="408.5" y="363.0" font-size="15px">=</text><text x="417.3" y="363.0" font-size="14.6px">3</text><text x="394.3" y="364.2" font-size="10.4px">top</text><text x="387.6" y="363.0" font-style="italic" font-size="13.6px">y</text></g>
<text x="120.55" y="61.90" font-size="13px" text-anchor="middle" fill="#000">1.8</text>
<text x="73.70" y="137.60" font-size="13px" text-anchor="middle" fill="#000">0.4</text>
<text x="200.75" y="121.60" font-size="13px" text-anchor="middle" fill="#000">1.44</text>
<text x="97.30" y="295.60" font-size="13px" text-anchor="middle" fill="#000">0.8</text>
<text x="286.20" y="221.20" font-size="13px" text-anchor="middle" fill="#000">0.9</text>
<text x="326.20" y="275.90" font-size="13px" text-anchor="middle" fill="#000">0.6</text>
<text x="339.65" y="365.00" font-size="13px" text-anchor="middle" fill="#000">1.6</text>
<text x="313.7" y="77.8" font-size="23px" font-style="italic" fill="#000">C</text><text x="329.2" y="80.6" font-size="17px" fill="#000">ae</text>
<path d="M310.65,61.4 V80.9 M346.6,61.4 V80.9" stroke="#000" stroke-width="1.2"/>
<path d="M306.2,90.6 L351,90.6" stroke="#000" stroke-width="2.25"/>
<path d="M306.2,112.2 L351.2,112.2" stroke="#f00" stroke-width="2.2" stroke-dasharray="6.2,1.73"/>
<path d="M306.2,133.5 L348.9,133.5" stroke="#00f" stroke-width="2.2" stroke-dasharray="3.1,1.85"/>
<g font-size="15px" fill="#000"><text x="358.0" y="92" font-size="14.8px">DFSZ</text><text x="359.6" y="112.9">k=1</text><text x="359.6" y="133.8">k=2</text></g>
</svg></body></html>
